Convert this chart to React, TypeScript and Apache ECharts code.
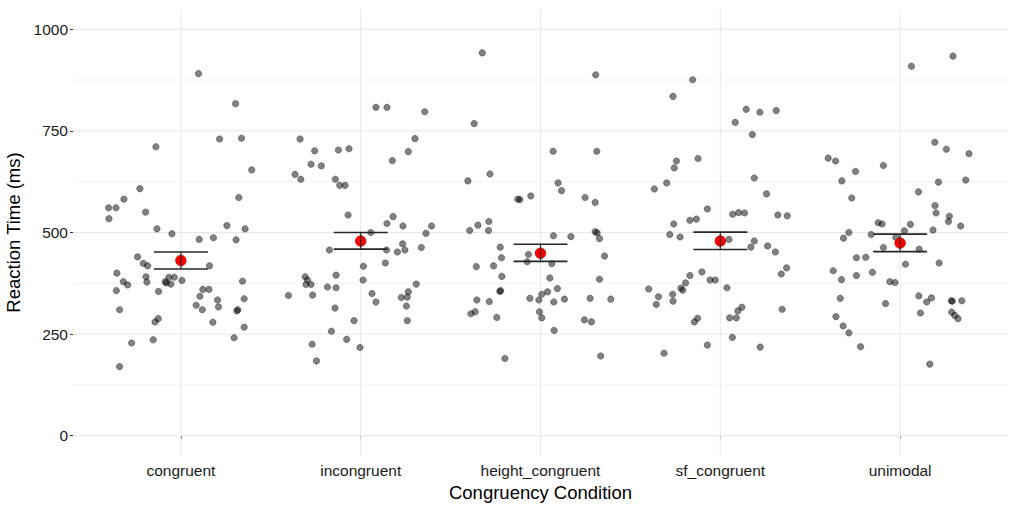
import React, { useEffect, useRef } from "react";
import * as echarts from "echarts";

const categories = ["congruent", "incongruent", "height_congruent", "sf_congruent", "unimodal"];
const yMajorTicks = [0, 250, 500, 750, 1000];
const yMinorTicks = [125, 375, 625, 875];

// [jitter offset from category centre, reaction time in ms]
const congruentPts = [
  [0.098, 891], [0.304, 817], [0.215, 730], [0.337, 732], [-0.139, 711], [0.394, 654], [-0.228, 608], [0.322, 586],
  [-0.317, 582], [-0.402, 561], [-0.361, 561], [-0.4, 534], [-0.196, 550], [-0.133, 509], [-0.05, 497], [0.256, 517],
  [0.357, 509], [0.102, 483], [0.181, 487], [0.307, 482], [-0.241, 440], [-0.209, 424], [-0.185, 418], [0.159, 418],
  [-0.356, 400], [-0.194, 391], [-0.32, 379], [-0.296, 371], [-0.189, 378], [-0.087, 379], [-0.067, 390], [-0.037, 390],
  [-0.056, 373], [-0.081, 376], [0.006, 382], [0.343, 380], [-0.359, 357], [-0.124, 355], [0.122, 360], [0.156, 360],
  [0.106, 343], [0.204, 334], [0.352, 337], [0.085, 321], [0.209, 317], [0.119, 310], [0.317, 310], [0.311, 307],
  [-0.341, 310], [-0.126, 288], [-0.144, 280], [0.178, 279], [0.352, 267], [0.296, 241], [-0.154, 236], [-0.274, 228],
  [-0.341, 170],
];
const incongruentPts = [
  [0.085, 808], [0.146, 808], [0.356, 797], [-0.337, 730], [0.302, 731], [-0.256, 701], [-0.124, 703], [-0.065, 706],
  [0.265, 699], [0.176, 677], [-0.276, 668], [-0.219, 664], [-0.365, 643], [-0.333, 631], [-0.141, 631], [-0.117, 616],
  [-0.087, 616], [-0.07, 543], [0.18, 539], [0.146, 522], [0.235, 516], [0.394, 516], [0.056, 500], [0.363, 498],
  [0.233, 472], [0.337, 463], [-0.174, 457], [0.144, 457], [0.204, 452], [0.246, 457], [0.137, 425], [0.015, 417],
  [-0.137, 395], [-0.309, 391], [-0.296, 383], [0.013, 383], [-0.304, 372], [-0.276, 372], [-0.185, 366], [-0.137, 364],
  [0.309, 373], [-0.402, 345], [-0.267, 346], [0.063, 350], [0.265, 354], [0.226, 340], [0.259, 341], [0.085, 329],
  [-0.143, 314], [0.254, 319], [-0.037, 283], [0.259, 283], [-0.163, 257], [-0.078, 237], [-0.27, 225], [-0.004, 217],
  [-0.246, 184],
];
const heightCongruentPts = [
  [-0.324, 942], [0.307, 888], [-0.369, 768], [0.07, 700], [0.313, 700], [-0.281, 644], [-0.404, 627], [0.098, 622],
  [0.117, 603], [-0.054, 590], [-0.126, 582], [-0.115, 581], [0.248, 586], [0.304, 574], [-0.287, 527], [-0.348, 518],
  [-0.394, 505], [-0.289, 505], [0.304, 502], [0.315, 499], [0.072, 492], [0.169, 490], [0.328, 485], [-0.224, 464],
  [-0.217, 438], [-0.067, 446], [-0.074, 428], [0.356, 442], [-0.357, 416], [-0.261, 418], [0.063, 423], [-0.215, 392],
  [0.052, 388], [0.328, 385], [-0.222, 357], [-0.226, 355], [0.094, 362], [0.039, 354], [0.007, 348], [-0.059, 338],
  [-0.009, 334], [0.074, 329], [0.133, 336], [0.276, 338], [0.391, 336], [-0.354, 334], [-0.285, 330], [-0.363, 305],
  [-0.387, 300], [-0.006, 305], [0.007, 290], [-0.243, 291], [0.244, 285], [0.283, 280], [0.076, 259], [-0.198, 190],
  [0.335, 196],
];
const sfCongruentPts = [
  [-0.154, 876], [-0.263, 835], [0.144, 803], [0.22, 796], [0.311, 800], [0.083, 771], [0.178, 741], [-0.124, 682],
  [-0.244, 676], [-0.256, 659], [0.189, 634], [-0.298, 622], [-0.367, 607], [0.257, 595], [-0.072, 558], [0.069, 545],
  [0.102, 549], [0.135, 548], [0.32, 543], [0.372, 541], [-0.169, 530], [-0.133, 533], [-0.259, 521], [-0.281, 495],
  [-0.224, 489], [0.048, 483], [0.189, 479], [0.17, 464], [0.263, 467], [0.306, 452], [0.369, 413], [0.339, 398],
  [-0.102, 403], [-0.169, 394], [-0.057, 383], [-0.028, 383], [-0.193, 376], [-0.398, 361], [0.037, 364], [-0.219, 363],
  [-0.209, 358], [-0.344, 342], [-0.265, 348], [-0.356, 323], [-0.263, 331], [0.12, 316], [0.098, 307], [0.344, 311],
  [-0.126, 289], [-0.144, 280], [0.052, 290], [0.089, 290], [0.067, 242], [-0.072, 223], [0.222, 218], [-0.313, 203],
];
const unimodalPts = [
  [0.294, 934], [0.063, 909], [0.193, 722], [0.257, 705], [0.383, 694], [-0.4, 683], [-0.359, 676], [-0.093, 665],
  [-0.248, 650], [-0.324, 627], [0.213, 624], [0.365, 629], [0.102, 600], [-0.269, 585], [0.194, 566], [0.2, 548],
  [0.274, 540], [0.269, 527], [0.337, 516], [-0.122, 524], [-0.1, 521], [0.057, 520], [0.024, 504], [0.183, 506],
  [-0.285, 500], [-0.161, 495], [-0.315, 486], [-0.024, 488], [-0.093, 463], [0.106, 459], [-0.243, 438], [-0.191, 439],
  [0.03, 422], [0.217, 425], [-0.372, 406], [-0.154, 402], [-0.326, 384], [-0.243, 394], [-0.057, 379], [-0.028, 377],
  [-0.333, 338], [0.104, 344], [0.148, 329], [0.174, 339], [-0.081, 325], [0.285, 332], [0.29, 331], [0.343, 332],
  [0.113, 302], [0.287, 304], [0.304, 296], [0.322, 288], [-0.357, 293], [-0.317, 270], [-0.285, 253], [-0.22, 219],
  [0.165, 176],
];
const allPts = [congruentPts, incongruentPts, heightCongruentPts, sfCongruentPts, unimodalPts];

const meanRT = [431, 479, 449, 479, 474];
const lowerRT = [410, 459, 429, 458, 453];
const upperRT = [452, 500, 471, 501, 496];

const X_MIN = 0.4;
const X_MAX = 5.6;
const Y_MIN = -50;
const Y_MAX = 1050;
const ERR_HALF = 0.15;
const FONT = "'Liberation Sans', Arial, Helvetica, sans-serif";

function gridSeries(data: number[][], color: string, width: number) {
  return {
    type: "line",
    data,
    symbol: "none",
    silent: true,
    z: 0,
    lineStyle: { color, width },
    animation: false,
  };
}

export default function App() {
  const ref = useRef<HTMLDivElement>(null);

  useEffect(() => {
    if (!ref.current) return;
    const chart = echarts.init(ref.current, undefined, { renderer: "svg" });

    const series: any[] = [];
    yMinorTicks.forEach((v) => series.push(gridSeries([[X_MIN, v], [X_MAX, v]], "#f0f0f0", 0.8)));
    yMajorTicks.forEach((v) => series.push(gridSeries([[X_MIN, v], [X_MAX, v]], "#e8e8e8", 1)));
    categories.forEach((_, i) => series.push(gridSeries([[i + 1, Y_MIN], [i + 1, Y_MAX]], "#e8e8e8", 1)));

    allPts.forEach((pts, i) => {
      series.push({
        type: "scatter",
        name: categories[i],
        data: pts.map((p) => [i + 1 + p[0], p[1]]),
        symbolSize: 6.5,
        z: 3,
        itemStyle: {
          color: "rgba(0,0,0,0.62)",
          borderColor: "rgba(0,0,0,0.38)",
          borderWidth: 1,
        },
      });
    });

    series.push({
      type: "scatter",
      name: "mean",
      data: meanRT.map((m, i) => [i + 1, m]),
      symbolSize: 10.5,
      z: 4,
      itemStyle: { color: "#ff0000", borderColor: "#c00000", borderWidth: 0.8, opacity: 1 },
    });

    series.push({
      type: "custom",
      name: "ci",
      z: 5,
      data: meanRT.map((_, i) => [i + 1, lowerRT[i], upperRT[i]]),
      renderItem: (params: any, api: any) => {
        const x = api.value(0);
        const lo = api.value(1);
        const hi = api.value(2);
        const a = api.coord([x - ERR_HALF, hi]);
        const b = api.coord([x + ERR_HALF, hi]);
        const c = api.coord([x - ERR_HALF, lo]);
        const d = api.coord([x + ERR_HALF, lo]);
        const t = api.coord([x, hi]);
        const u = api.coord([x, lo]);
        const style = { stroke: "#262626", lineWidth: 1.6 };
        return {
          type: "group",
          children: [
            { type: "line", shape: { x1: a[0], y1: a[1], x2: b[0], y2: b[1] }, style },
            { type: "line", shape: { x1: c[0], y1: c[1], x2: d[0], y2: d[1] }, style },
            { type: "line", shape: { x1: t[0], y1: t[1], x2: u[0], y2: u[1] }, style: { stroke: "#262626", lineWidth: 1.2 } },
          ],
        };
      },
    });

    chart.setOption({
      animation: false,
      backgroundColor: "#ffffff",
      textStyle: { fontFamily: FONT },
      grid: { left: 73, right: 5, top: 9, bottom: 52, containLabel: false, outerBoundsMode: "none" },
      xAxis: {
        type: "value",
        min: X_MIN,
        max: X_MAX,
        name: "Congruency Condition",
        nameLocation: "middle",
        nameGap: 25,
        nameTextStyle: { fontFamily: FONT, fontSize: 18.5, color: "#000" },
        axisLine: { show: false },
        splitLine: { show: false },
        axisTick: {
          show: true,
          customValues: [1, 2, 3, 4, 5],
          length: 3,
          lineStyle: { color: "#333", width: 1 },
        },
        axisLabel: {
          customValues: [1, 2, 3, 4, 5],
          margin: 6,
          fontFamily: FONT,
          fontSize: 15.5,
          color: "#1a1a1a",
          formatter: (v: number) => categories[Math.round(v) - 1] ?? "",
        },
      },
      yAxis: {
        type: "value",
        min: Y_MIN,
        max: Y_MAX,
        name: "Reaction Time (ms)",
        nameLocation: "middle",
        nameRotate: 90,
        nameGap: 44,
        nameTextStyle: { fontFamily: FONT, fontSize: 18.5, color: "#000" },
        axisLine: { show: false },
        splitLine: { show: false },
        axisTick: {
          show: true,
          customValues: yMajorTicks,
          length: 3,
          lineStyle: { color: "#333", width: 1 },
        },
        axisLabel: {
          customValues: yMajorTicks,
          margin: 5,
          fontFamily: FONT,
          fontSize: 15.5,
          color: "#1a1a1a",
          formatter: (v: number) => String(v),
        },
      },
      series,
    });

    return () => chart.dispose();
  }, []);

  return (
    <div
      ref={ref}
      style={{ position: "fixed", left: 0, top: 0, width: 1013, height: 508, background: "#fff" }}
    />
  );
}
